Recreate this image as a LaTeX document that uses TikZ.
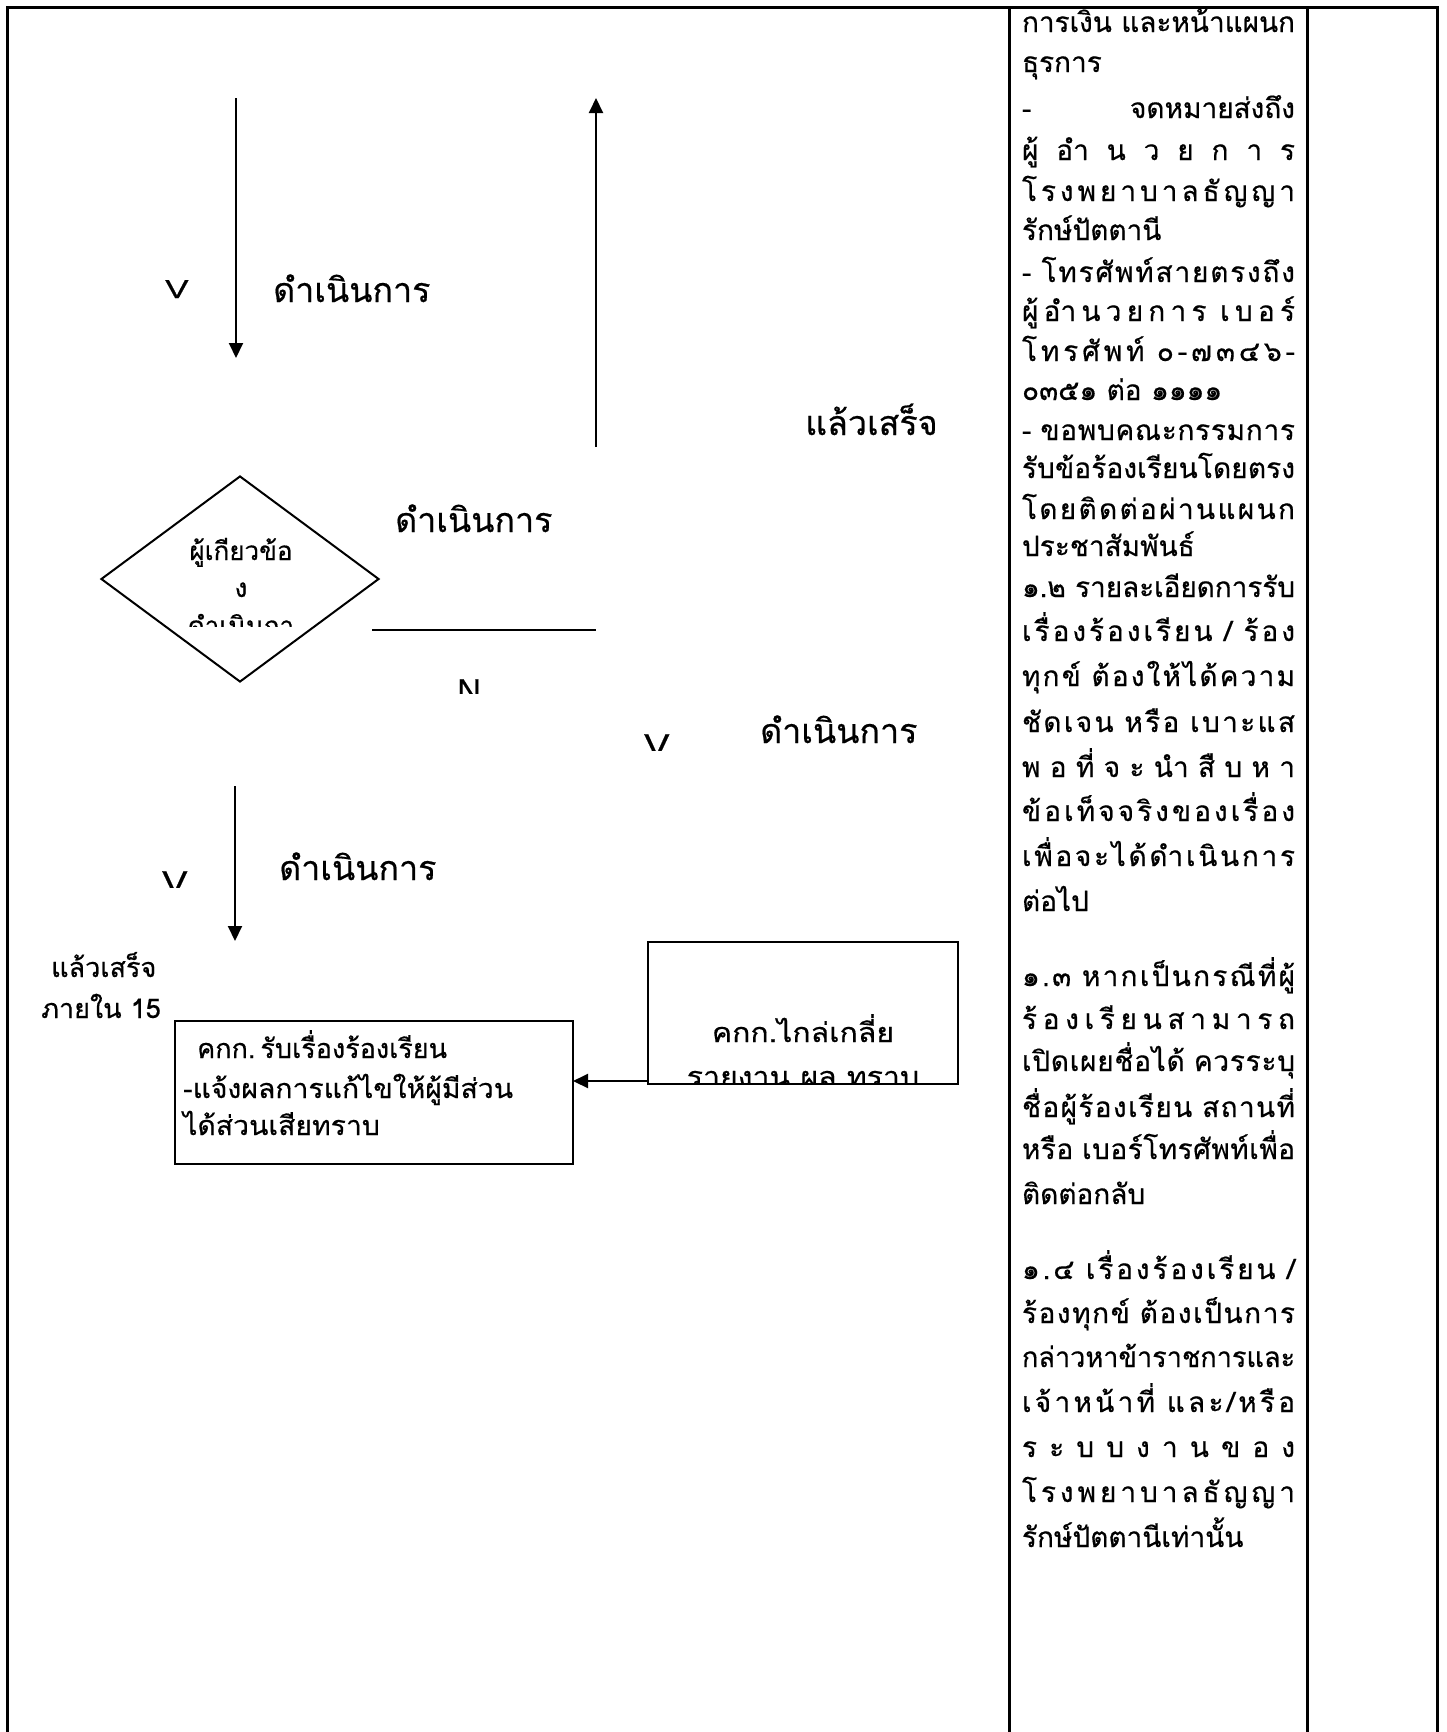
\documentclass[tikz,border=0pt]{standalone}
\usepackage{fontspec}
\newfontfamily\thai[Script=Thai,FakeBold=0.5]{Loma}
\newfontfamily\thaiw[Script=Thai,FakeStretch=1.12,FakeBold=0.5]{Loma}
\newfontfamily\thaim[Script=Thai,FakeStretch=1.05,FakeBold=0.5]{Loma}
\newfontfamily\lat[FakeBold=0.5]{Liberation Sans}
\usetikzlibrary{arrows.meta,shapes.geometric}
\XeTeXinterchartokenstate=0
\makeatletter
\count@="0E01
\loop \XeTeXcharclass\count@=5 \ifnum\count@<"0E5B \advance\count@ by 1 \repeat
\XeTeXcharclass"0E31=6
\count@="0E33
\loop \XeTeXcharclass\count@=6 \ifnum\count@<"0E3A \advance\count@ by 1 \repeat
\count@="0E47
\loop \XeTeXcharclass\count@=6 \ifnum\count@<"0E4E \advance\count@ by 1 \repeat
\makeatother
\XeTeXcharclass`\-=5
\XeTeXcharclass`\/=5
\XeTeXcharclass`\.=5
\XeTeXinterchartoks 5 5 = {\hskip 0pt plus 1fil\relax}
\XeTeXinterchartoks 6 5 = {\hskip 0pt plus 1fil\relax}
\newsavebox\flbox
\newlength\colw
\setlength\colw{273pt}
\newcommand{\fl}[1]{\sbox\flbox{\XeTeXinterchartokenstate=1 #1}%
  \ifdim\wd\flbox>\colw
    \resizebox{\colw}{\height}{\usebox\flbox}%
  \else
    \makebox[\colw][s]{\spaceskip=0.3em plus 1fil\XeTeXinterchartokenstate=1 #1}%
  \fi}
\tikzset{
  frame/.style={line width=3pt},
  conn/.style={line width=2pt,-{Triangle[width=14pt,length=15pt]}},
  plain/.style={line width=2pt},
  box/.style={draw,line width=2pt,outer sep=0pt,inner sep=0pt,anchor=north west},
  col/.style={font=\thai\fontsize{28}{34}\selectfont,inner sep=0pt,outer sep=0pt,anchor=base west},
  lbl/.style={font=\thai\fontsize{34}{40}\selectfont,inner sep=0pt,anchor=base west},
  small/.style={font=\thai\fontsize{27}{32}\selectfont,inner sep=0pt,anchor=base west},
  smallw/.style={font=\thaim\fontsize{27}{32}\selectfont,inner sep=0pt,anchor=base west},
  wide/.style={font=\thaiw\fontsize{27}{32}\selectfont,inner sep=0pt,anchor=base},
  dtext/.style={font=\thai\fontsize{26}{30}\selectfont,inner sep=0pt,anchor=base},
  latv/.style={font=\lat\fontsize{33}{38}\selectfont,inner sep=0pt,anchor=base west},
}
\begin{document}
\begin{tikzpicture}[x=1pt,y=-1pt]
\useasboundingbox (0,0) rectangle (1446,1732);
% table frame
\draw[frame] (7,1732) -- (7,7) -- (1437,7) -- (1437,1732);
\draw[frame] (1009,7) -- (1009,1732);
\draw[frame] (1307,7) -- (1307,1732);

% coordinates for free connectors
\coordinate (a1s) at (236,98);
\coordinate (a1e) at (236,358);
\coordinate (a2s) at (596,447);
\coordinate (a2e) at (596,98);
\coordinate (h1s) at (372,630);
\coordinate (h1e) at (596,630);
\coordinate (a3s) at (235,786);
\coordinate (a3e) at (235,941);

% shapes
\node[draw,diamond,line width=2pt,minimum width=278pt,minimum height=206pt,inner sep=0pt] (d) at (240,579) {};
\node[box,minimum width=398pt,minimum height=143pt] (b1) at (175,1021) {};
\node[box,minimum width=310pt,minimum height=142pt] (b2) at (648,942) {};
\coordinate (a4s) at (648,1081);

% connectors
\draw[conn] (a1s) -- (a1e);
\draw[conn] (a2s) -- (a2e);
\draw[plain] (h1s) -- (h1e);
\draw[conn] (a3s) -- (a3e);
\draw[conn] (a4s) -- (b1.east |- a4s);

% labels
\node[latv,font=\lat\fontsize{26}{30}\selectfont] (v1) at (165,298) {\scalebox{1.35}[1]{V}};
\node[lbl] (t1) at (273,302) {ดำเนินการ};
\node[lbl] (t2) at (805,435) {แล้วเสร็จ};
\node[lbl] (t3) at (395,532) {ดำเนินการ};
\node[lbl] (t4) at (760,743) {ดำเนินการ};
\node[lbl] (t5) at (279,880) {ดำเนินการ};
\begin{scope}
\clip (440,660) rectangle (500,693);
\node[latv] (n1) at (457,702) {N};
\end{scope}
\begin{scope}
\clip (630,720) rectangle (690,750);
\node[latv] (v2) at (644,757) {\scalebox{1.15}[1]{V}};
\end{scope}
\begin{scope}
\clip (150,855) rectangle (200,887);
\node[latv] (v3) at (162,894) {\scalebox{1.15}[1]{V}};
\end{scope}

% diamond text
\node[dtext] (dt1) at (241,560) {ผู้เกียวข้อ};
\node[dtext] (dt2) at (241,597) {ง};
\begin{scope}
\clip (150,600) rectangle (330,626);
\node[dtext] (dt3) at (241,635) {ดำเนินกา};
\end{scope}

% left small labels
\node[small] (s1) at (51,977) {แล้วเสร็จ};
\node[small] (s2) at (41,1018) {ภายใน 15};

% box 1 text
\node[small] (b1a) at (197,1058) {คกก.\hspace{5pt}รับเรื่องร้องเรียน};
\node[smallw] (b1b) at (183,1098) {-แจ้งผลการแก้ไขให้ผู้มีส่วน};
\node[smallw] (b1c) at (183,1135) {ได้ส่วนเสียทราบ};

% box 2 text
\node[wide] (b2a) at (803,1042) {คกก.ไกล่เกลี่ย};
\begin{scope}
\clip (650,1050) rectangle (956,1083);
\node[wide] (b2b) at (803,1086) {รายงาน ผล ทราบ};
\end{scope}

% right column
\node[col] (r1) at (1022,32) {\fl{การเงิน และหน้าแผนก}};
\node[col] (r2) at (1022,72) {ธุรการ};
\node[col] (r3) at (1022,118) {\makebox[\colw][s]{-\hfill จดหมายส่งถึง}};
\node[col] (r4) at (1022,160) {\fl{ผู้อำนวยการ}};
\node[col] (r5) at (1022,201) {\fl{โรงพยาบาลธัญญา}};
\node[col] (r6) at (1022,240) {รักษ์ปัตตานี};
\node[col] (r7) at (1022,282) {\fl{- โทรศัพท์สายตรงถึง}};
\node[col] (r8) at (1022,321) {\fl{ผู้อำนวยการ เบอร์}};
\node[col] (r9) at (1022,361) {\fl{โทรศัพท์ ๐-๗๓๔๖-}};
\node[col] (r10) at (1022,400) {๐๓๕๑ ต่อ ๑๑๑๑};
\node[col] (r11) at (1022,440) {\fl{- ขอพบคณะกรรมการ}};
\node[col] (r12) at (1022,478) {\fl{รับข้อร้องเรียนโดยตรง}};
\node[col] (r13) at (1022,519) {\fl{โดยติดต่อผ่านแผนก}};
\node[col] (r14) at (1022,556) {ประชาสัมพันธ์};
\node[col] (r15) at (1022,597) {\fl{๑.๒ รายละเอียดการรับ}};
\node[col] (r16) at (1022,641) {\fl{เรื่องร้องเรียน / ร้อง}};
\node[col] (r17) at (1022,686) {\fl{ทุกข์ ต้องให้ได้ความ}};
\node[col] (r18) at (1022,732) {\fl{ชัดเจน หรือ เบาะแส}};
\node[col] (r19) at (1022,777) {\fl{พอที่จะนำสืบหา}};
\node[col] (r20) at (1022,821) {\fl{ข้อเท็จจริงของเรื่อง}};
\node[col] (r21) at (1022,866) {\fl{เพื่อจะได้ดำเนินการ}};
\node[col] (r22) at (1022,911) {ต่อไป};
\node[col] (r23) at (1022,986) {\fl{๑.๓ หากเป็นกรณีที่ผู้}};
\node[col] (r24) at (1022,1029) {\fl{ร้องเรียนสามารถ}};
\node[col] (r25) at (1022,1071) {\fl{เปิดเผยชื่อได้ ควรระบุ}};
\node[col] (r26) at (1022,1117) {\fl{ชื่อผู้ร้องเรียน สถานที่}};
\node[col] (r27) at (1022,1159) {\fl{หรือ เบอร์โทรศัพท์เพื่อ}};
\node[col] (r28) at (1022,1204) {ติดต่อกลับ};
\node[col] (r29) at (1022,1279) {\fl{๑.๔ เรื่องร้องเรียน /}};
\node[col] (r30) at (1022,1323) {\fl{ร้องทุกข์ ต้องเป็นการ}};
\node[col] (r31) at (1022,1367) {\fl{กล่าวหาข้าราชการและ}};
\node[col] (r32) at (1022,1412) {\fl{เจ้าหน้าที่ และ/หรือ}};
\node[col] (r33) at (1022,1457) {\fl{ระบบงานของ}};
\node[col] (r34) at (1022,1502) {\fl{โรงพยาบาลธัญญา}};
\node[col] (r35) at (1022,1547) {รักษ์ปัตตานีเท่านั้น};
\end{tikzpicture}
\end{document}
